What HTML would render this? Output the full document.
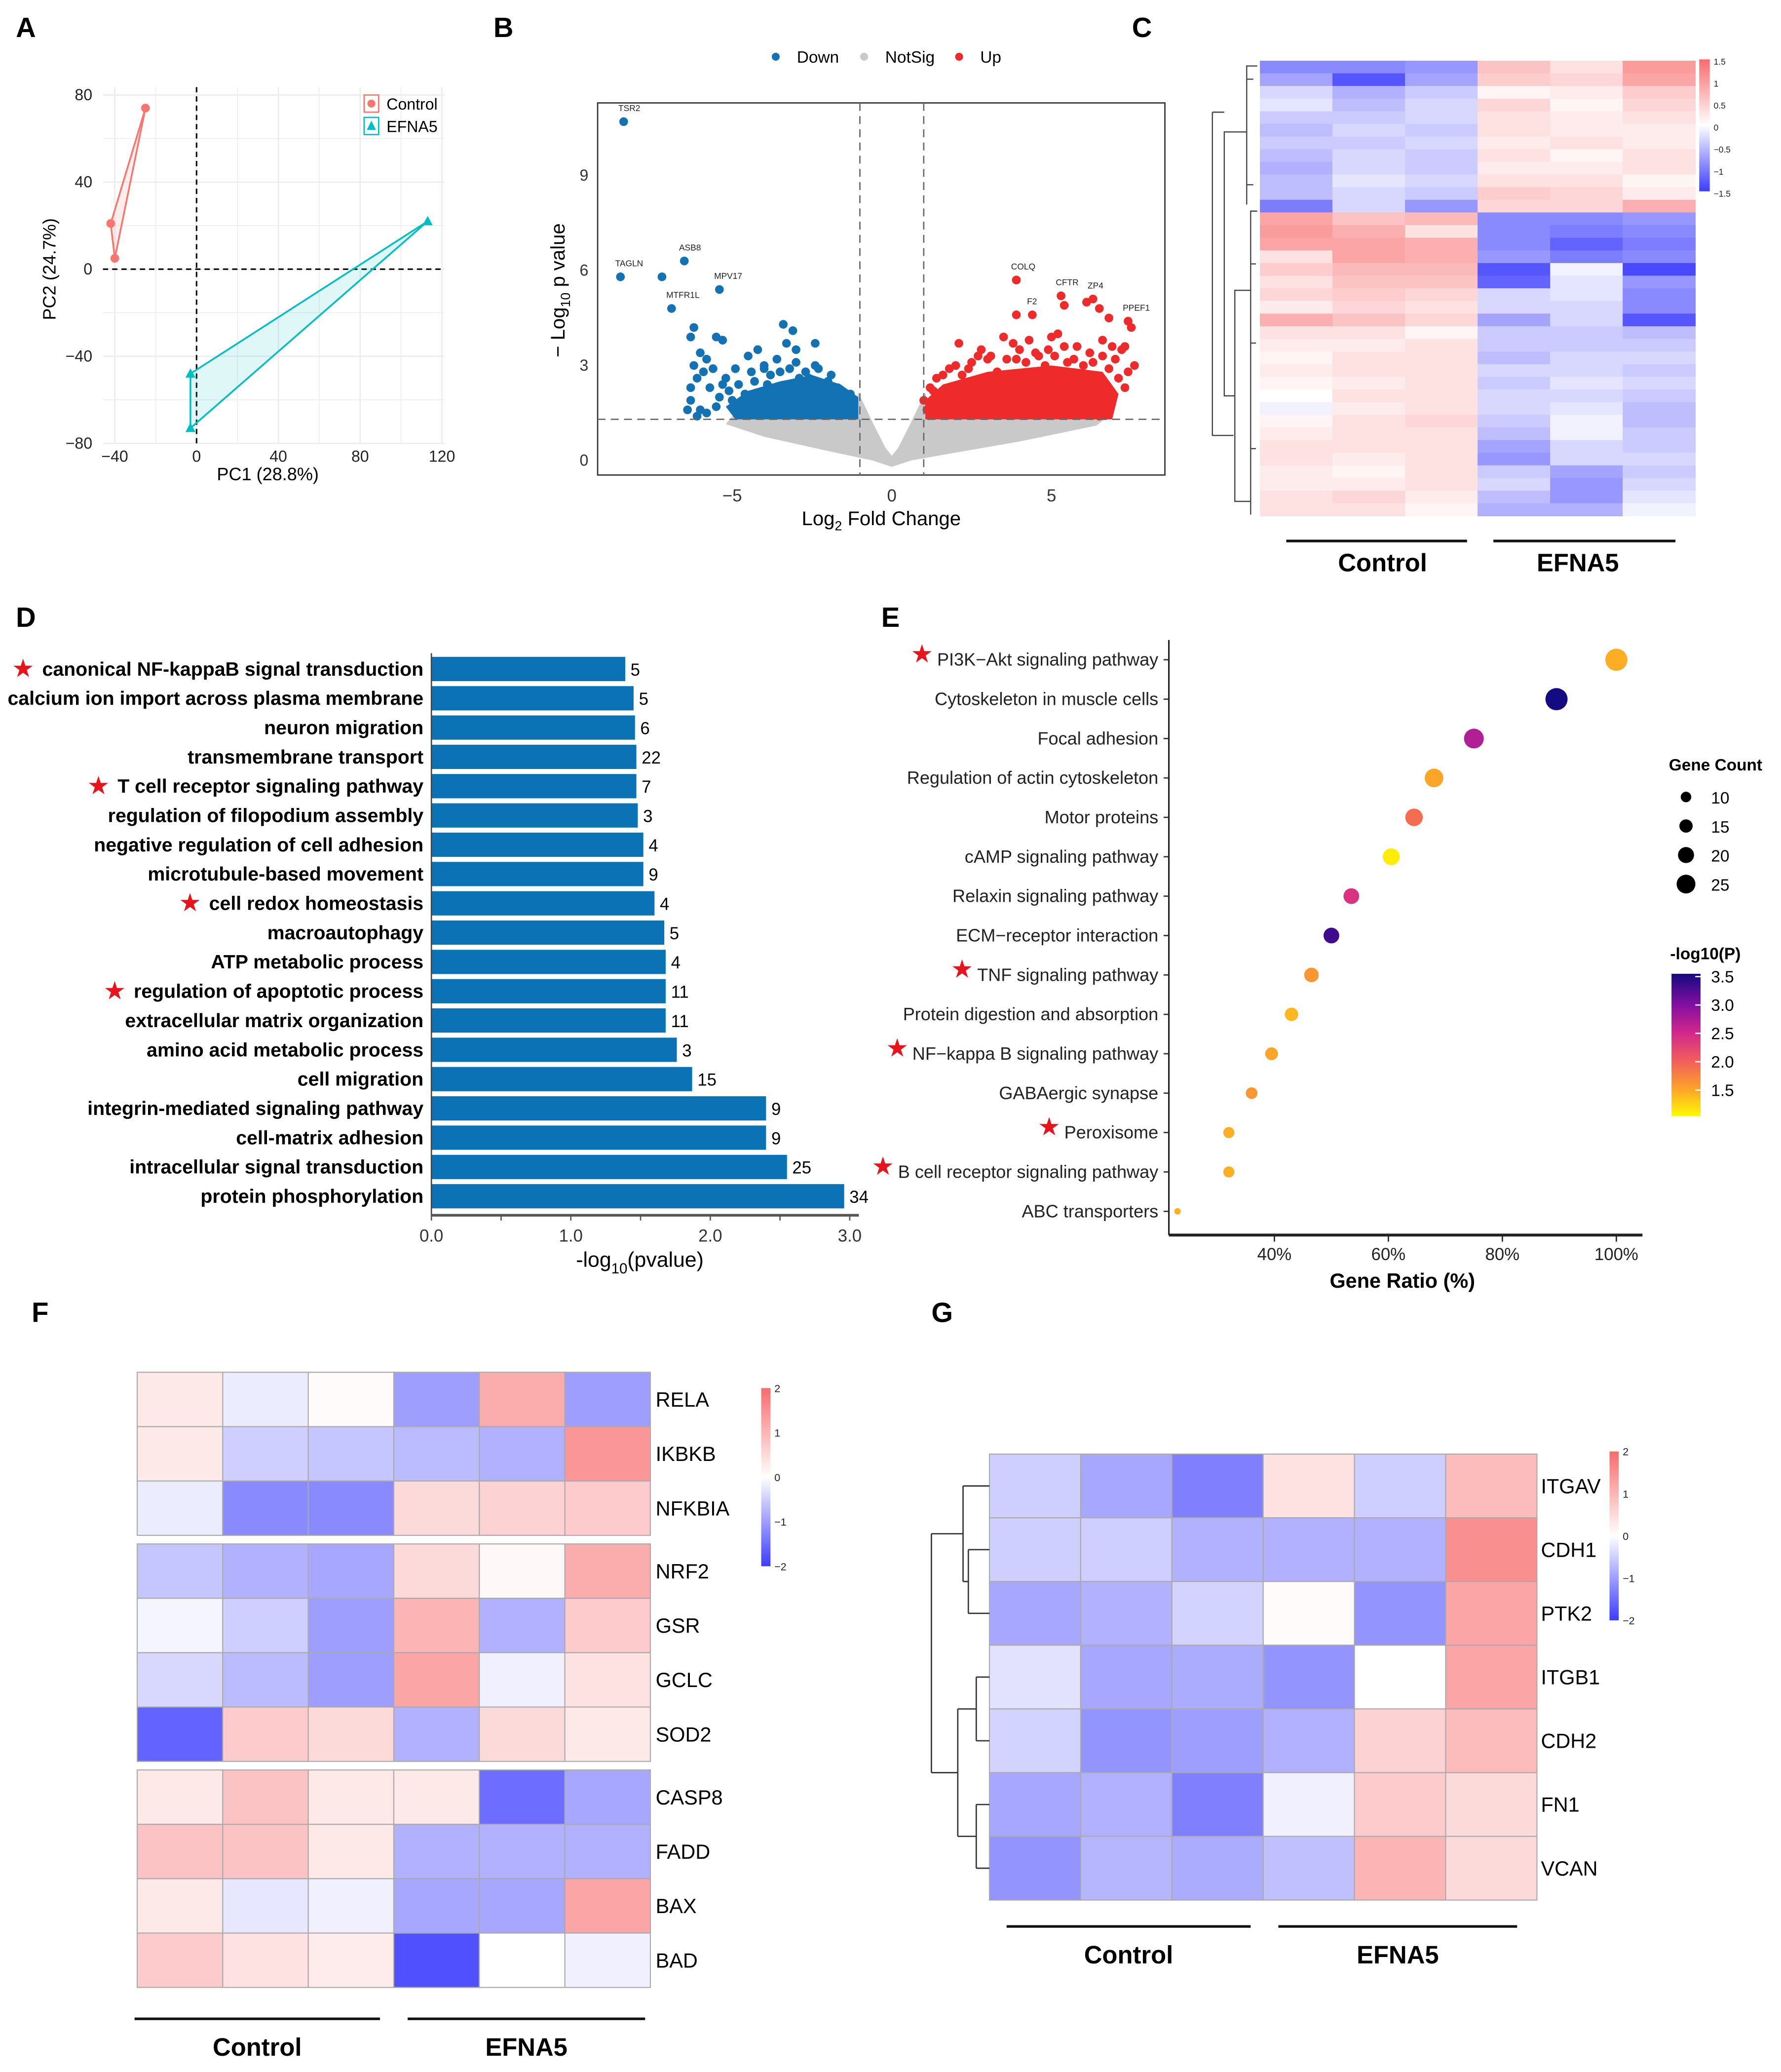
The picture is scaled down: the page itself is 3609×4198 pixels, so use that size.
<!DOCTYPE html>
<html><head><meta charset="utf-8"><style>
html,body{margin:0;padding:0;background:#fff}
svg{display:block}
text{font-family:"Liberation Sans",Arial,sans-serif}
</style></head><body>
<svg id="fig" xmlns="http://www.w3.org/2000/svg" width="3609" height="4198" viewBox="0 0 1350 1570.3" preserveAspectRatio="none">
<rect width="1350" height="1571" fill="#fff"/>
<g font-weight="bold" font-size="21">
<text x="12" y="28">A</text>
<text x="374" y="28">B</text>
<text x="858" y="28">C</text>
<text x="12" y="475">D</text>
<text x="668" y="475">E</text>
<text x="24" y="1002">F</text>
<text x="706" y="1002">G</text>
</g>
<g id="pA"></g>
<g id="pB"></g>
<g id="pC"></g>
<g id="pD"></g>
<g id="pE"></g>
<g id="pF"></g>
<g id="pG"></g>
</svg>
<script>
// ---------- DATA ----------
const pcaControlX=[-25,-42,-40];
const pcaControlY=[74,21,5];
const pcaEfnaX=[113,-3,-3];
const pcaEfnaY=[22,-48,-73];
const pcaTicks=[-40,0,40,80,120];
const pcaYTicks=[-80,-40,0,40,80];

const volLabeled=[["TSR2",-8.4,10.7,"down"],["TAGLN",-8.5,5.8,"down"],["ASB8",-6.5,6.3,"down"],["MTFR1L",-6.9,4.8,"down"],["MPV17",-5.4,5.4,"down"],["COLQ",3.9,5.7,"up"],["CFTR",5.3,5.2,"up"],["ZP4",6.3,5.1,"up"],["F2",4.4,4.6,"up"],["PPEF1",7.4,4.4,"up"]];
const volDownX=[-7.2,-6.2,-6.3,-5.5,-5.3,-3.4,-3.1,-3.3,-3.0,-2.4,-6.0,-5.8,-6.2,-5.9,-6.1,-5.6,-4.5,-4.2,-4.0,-3.6,-2.4,-2.7,-6.3,-6.3,-6.0,-6.1,-5.7,-5.4,-5.2,-4.8,-2.0,-1.7,-1.3,-1.2,-6.4,-5.8,-3.8,-3.2,-2.9,-4.4,-5.0,-4.6,-3.9,-2.2,-1.5,-5.5,-5.1,-4.9,-4.3,-3.5,-2.6,-1.9,-1.4,-5.3,-4.0,-3.0,-2.3];
const volDownY=[5.8,4.2,3.9,3.9,3.8,4.3,4.1,3.7,3.5,3.7,3.4,3.2,3.0,2.8,2.6,2.9,3.3,3.5,3.0,3.2,3.0,2.8,2.3,1.9,1.6,1.4,2.3,2.0,2.6,2.4,2.5,2.3,2.1,1.9,1.6,1.5,2.7,2.9,2.6,2.8,1.9,2.1,2.4,2.2,1.8,1.7,2.2,2.9,2.5,2.8,2.6,2.7,2.0,2.4,2.9,3.1,2.9];
const volUpX=[3.9,5.4,6.1,6.5,3.9,7.5,6.8,2.1,2.8,3.1,3.5,3.8,4.0,4.3,4.6,5.0,5.2,5.4,5.8,6.2,6.6,6.9,7.2,7.3,7.6,7.0,6.8,7.1,7.3,6.9,6.7,6.5,2.5,1.8,1.4,1.2,1.0,1.1,5.5,4.8,3.3,2.2,6.0,4.2,5.9,7.4,3.0,1.6,2.0,2.7,3.6,4.5,5.1,5.7,6.3,6.6,1.3,2.4,3.9,4.9];
const volUpY=[5.7,4.9,5.0,4.8,4.6,4.2,4.5,3.7,3.5,3.3,3.9,3.7,3.5,3.8,3.3,3.9,4.0,3.6,3.6,3.4,3.8,3.6,3.5,3.6,3.0,3.2,2.9,2.6,2.3,2.0,1.6,1.4,3.1,2.9,2.6,2.3,1.9,1.6,3.1,3.0,2.8,2.7,3.0,3.1,2.6,2.8,3.2,2.7,3.0,3.3,3.2,3.4,3.3,3.2,3.1,3.3,2.2,2.9,3.2,3.5];
const volGrayRegion=[[-5,1.4],[-1.2,1.4],[-1.05,2.15],[-0.6,1.2],[-0.2,0.4],[0,0.15],[0.2,0.4],[0.6,1.2],[1.05,2.15],[1.2,1.4],[6.8,1.4],[6.4,1.1],[4,0.6],[2,0.25],[0.6,0],[0,-0.2],[-0.6,0],[-2,0.3],[-4,0.75],[-5.2,1.15]];
const volDownRegion=[[-4.9,1.3],[-1.05,1.3],[-1.05,2.0],[-1.6,2.4],[-2.5,2.7],[-3.5,2.5],[-4.5,2.2],[-5.2,1.7]];
const volUpRegion=[[1.05,1.3],[6.9,1.3],[7.1,2.1],[6.6,2.8],[5,3.0],[3,2.8],[1.6,2.4],[1.05,1.9]];
const volXTicks=[-5,0,5];
const volYTicks=[0,3,6,9];

const heatCRows=[
[-0.9,-0.9,-0.8,0.6,0.3,1.0],[-0.7,-1.3,-0.7,0.5,0.4,0.9],[-0.3,-0.6,-0.4,0.1,0.2,0.5],[-0.2,-0.5,-0.3,0.4,0.1,0.4],
[-0.4,-0.4,-0.3,0.3,0.2,0.3],[-0.5,-0.3,-0.4,0.3,0.2,0.2],[-0.4,-0.4,-0.3,0.2,0.3,0.2],[-0.5,-0.3,-0.4,0.3,0.1,0.3],
[-0.6,-0.3,-0.4,0.2,0.2,0.3],[-0.5,-0.2,-0.3,0.3,0.3,0.1],[-0.5,-0.3,-0.4,0.5,0.4,0.2],[-1.0,-0.3,-0.8,0.4,0.4,0.8],
[0.9,0.6,0.7,-0.9,-0.9,-0.8],[1.0,0.8,0.3,-0.9,-1.0,-0.9],[0.9,0.9,0.8,-0.9,-1.2,-1.0],[0.3,0.9,0.8,-0.8,-1.0,-0.9],
[0.5,0.7,0.7,-1.3,-0.1,-1.4],[0.3,0.6,0.6,-1.2,-0.2,-0.8],[0.4,0.5,0.4,-0.3,-0.2,-0.9],[0.2,0.4,0.3,-0.3,-0.3,-0.9],
[0.8,0.6,0.4,-0.7,-0.3,-1.3],[0.3,0.3,0.1,-0.4,-0.4,-0.5],[0.2,0.2,0.3,-0.4,-0.4,-0.4],[0.1,0.3,0.3,-0.5,-0.3,-0.3],
[0.2,0.3,0.3,-0.3,-0.3,-0.4],[0.1,0.2,0.3,-0.4,-0.2,-0.3],[0.0,0.3,0.3,-0.3,-0.3,-0.4],[-0.1,0.2,0.3,-0.3,-0.2,-0.5],
[0.1,0.3,0.4,-0.4,-0.1,-0.5],[0.2,0.3,0.3,-0.5,-0.1,-0.4],[0.3,0.3,0.3,-0.7,-0.3,-0.4],[0.3,0.2,0.3,-0.8,-0.3,-0.3],
[0.2,0.1,0.3,-0.4,-0.7,-0.4],[0.2,0.2,0.3,-0.3,-0.8,-0.3],[0.3,0.4,0.2,-0.5,-0.8,-0.2],[0.3,0.3,0.1,-0.6,-0.6,-0.1]];
const heatCTicks=["1.5","1","0.5","0","-0.5","-1","-1.5"];

const goTerms=["canonical NF-kappaB signal transduction","calcium ion import across plasma membrane","neuron migration","transmembrane transport","T cell receptor signaling pathway","regulation of filopodium assembly","negative regulation of cell adhesion","microtubule-based movement","cell redox homeostasis","macroautophagy","ATP metabolic process","regulation of apoptotic process","extracellular matrix organization","amino acid metabolic process","cell migration","integrin-mediated signaling pathway","cell-matrix adhesion","intracellular signal transduction","protein phosphorylation"];
const goValues=[1.39,1.45,1.46,1.47,1.47,1.48,1.52,1.52,1.60,1.67,1.68,1.68,1.68,1.76,1.87,2.40,2.40,2.55,2.96];
const goCounts=[5,5,6,22,7,3,4,9,4,5,4,11,11,3,15,9,9,25,34];
const goStarred=[0,4,8,11];
const goTicks=[0,1,2,3];

const keggTerms=["PI3K\u2212Akt signaling pathway","Cytoskeleton in muscle cells","Focal adhesion","Regulation of actin cytoskeleton","Motor proteins","cAMP signaling pathway","Relaxin signaling pathway","ECM\u2212receptor interaction","TNF signaling pathway","Protein digestion and absorption","NF\u2212kappa B signaling pathway","GABAergic synapse","Peroxisome","B cell receptor signaling pathway","ABC transporters"];
const keggRatio=[100,89.5,75,68,64.5,60.5,53.5,50,46.5,43,39.5,36,32,32,23];
const keggCount=[29,29,25,23,21,20,18,18,16,14,13,11,10,10,2];
const keggLogP=[1.45,3.5,2.7,1.5,1.9,1.1,2.4,3.3,1.6,1.4,1.5,1.6,1.45,1.45,1.45];
const keggStarred=[0,8,10,12,13];
const keggTicks=[40,60,80,100];
const countLegend=[10,15,20,25];
const logPTicks=[3.5,3.0,2.5,2.0,1.5];

const heatFGenes=["RELA","IKBKB","NFKBIA","NRF2","GSR","GCLC","SOD2","CASP8","FADD","BAX","BAD"];
const heatFGroups=[3,4,4];
const heatFValues=[[0.3,-0.2,0.05,-1.0,1.1,-1.0],[0.3,-0.5,-0.6,-0.7,-0.8,1.4],[-0.2,-1.2,-1.2,0.5,0.6,0.7],
[-0.6,-0.8,-0.9,0.5,0.1,1.1],[-0.1,-0.5,-1.0,1.0,-0.8,0.7],[-0.4,-0.7,-1.0,1.2,-0.15,0.4],[-1.6,0.7,0.5,-0.8,0.5,0.3],
[0.3,0.8,0.3,0.3,-1.5,-0.9],[0.8,0.8,0.3,-0.8,-0.8,-0.8],[0.3,-0.25,-0.15,-0.9,-0.9,1.2],[0.7,0.4,0.25,-1.8,0.0,-0.15]];
const heatGGenes=["ITGAV","CDH1","PTK2","ITGB1","CDH2","FN1","VCAN"];
const heatGValues=[[-0.5,-0.9,-1.3,0.4,-0.5,0.9],[-0.5,-0.5,-0.8,-0.8,-0.8,1.5],[-0.9,-0.8,-0.45,0.05,-1.1,1.2],
[-0.3,-0.9,-0.85,-1.1,0.0,1.2],[-0.45,-1.1,-1.0,-0.8,0.6,0.9],[-0.9,-0.8,-1.3,-0.15,0.7,0.5],[-1.1,-0.75,-0.85,-0.65,1.0,0.5]];
const heat2Ticks=["2","1","0","-1","-2"];

// ---------- HELPERS ----------
const NS="http://www.w3.org/2000/svg";
function mk(tag,attrs,parent,txt){const e=document.createElementNS(NS,tag);for(const k in attrs)e.setAttribute(k,attrs[k]);if(txt!==undefined)e.textContent=txt;parent.appendChild(e);return e;}
function heatColor(v,max){const t=Math.max(-1,Math.min(1,v/max));let c;if(t>=0)c=[255-(255-248)*t,255-(255-105)*t,255-(255-107)*t];else{const s=-t;c=[255-(255-60)*s,255-(255-60)*s,255];}return `rgb(${c.map(Math.round).join(',')})`;}
function lerpC(a,b,t){return a.map((x,i)=>Math.round(x+(b[i]-x)*t));}
const plasma=[[1.0,[255,255,0]],[1.5,[253,165,40]],[2.0,[243,95,90]],[2.5,[210,40,140]],[3.0,[130,15,160]],[3.5,[20,10,130]]];
function pColor(v){v=Math.max(1,Math.min(3.5,v));for(let i=0;i<plasma.length-1;i++){if(v<=plasma[i+1][0]){const t=(v-plasma[i][0])/(plasma[i+1][0]-plasma[i][0]);return `rgb(${lerpC(plasma[i][1],plasma[i+1][1],t).join(',')})`;}}return 'rgb(20,10,130)';}

// ---------- PANEL A ----------
(function(){
const g=document.getElementById('pA');
const ax=v=>149+v*62/40, ay=v=>204-v*66/40;
for(let v=-40;v<=120;v+=20){const l=mk('line',{x1:ax(v),x2:ax(v),y1:66,y2:336,stroke:'#ececec','stroke-width':v%40===0?1:0.6},g);}
for(let v=-80;v<=80;v+=20){const l=mk('line',{x1:78,x2:337,y1:ay(v),y2:ay(v),stroke:'#ececec','stroke-width':v%40===0?1:0.6},g);}
let l=mk('line',{x1:ax(0),x2:ax(0),y1:66,y2:336,stroke:'#111','stroke-dasharray':'4,3','stroke-width':1.2},g);
l=mk('line',{x1:78,x2:337,y1:ay(0),y2:ay(0),stroke:'#111','stroke-dasharray':'4,3','stroke-width':1.2},g);
const hull=(xs,ys,col,name)=>{const p=mk('polygon',{points:xs.map((x,i)=>ax(x)+','+ay(ys[i])).join(' '),fill:col,'fill-opacity':0.12,stroke:col,'stroke-width':1.3},g);};
hull(pcaControlX,pcaControlY,'#F8766D','control-hull');hull(pcaEfnaX,pcaEfnaY,'#00BFC4','efna5-hull');
pcaControlX.forEach((x,i)=>{const c=mk('circle',{cx:ax(x),cy:ay(pcaControlY[i]),r:3.3,fill:'#F8766D'},g);});
pcaEfnaX.forEach((x,i)=>{const X=ax(x),Y=ay(pcaEfnaY[i]);const c=mk('polygon',{points:`${X},${Y-4} ${X-3.8},${Y+3} ${X+3.8},${Y+3}`,fill:'#00BFC4'},g);});
pcaTicks.forEach(v=>{const t=mk('text',{x:ax(v),y:350,'font-size':12,'text-anchor':'middle',fill:'#222'},g,String(v).replace('-','\u2212'));});
pcaYTicks.forEach(v=>{const t=mk('text',{x:70,y:ay(v)+4,'font-size':12,'text-anchor':'end',fill:'#222'},g,String(v).replace('-','\u2212'));});
let t=mk('text',{x:203,y:364,'font-size':13.5,'text-anchor':'middle'},g,'PC1 (28.8%)');
t=mk('text',{x:0,y:0,'font-size':13.5,'text-anchor':'middle',transform:'translate(42,204) rotate(-90)'},g,'PC2 (24.7%)');
const lg=mk('g',{},g);
let r=mk('rect',{x:276,y:72,width:11,height:13,fill:'#fff',stroke:'#F8766D'},lg);
mk('circle',{cx:281.5,cy:78.5,r:3,fill:'#F8766D'},lg);
r=mk('rect',{x:276,y:89,width:11,height:13,fill:'#fff',stroke:'#00BFC4'},lg);
mk('polygon',{points:'281.5,91.5 278,98.5 285,98.5',fill:'#00BFC4'},lg);
t=mk('text',{x:293,y:83,'font-size':12},lg,'Control');
t=mk('text',{x:293,y:100,'font-size':12},lg,'EFNA5');
})();

// ---------- PANEL B ----------
(function(){
const g=document.getElementById('pB');
const vx=v=>676+v*24.2, vy=v=>349-v*24;
let r=mk('rect',{x:453,y:78,width:430,height:282,fill:'#fff',stroke:'#333','stroke-width':1},g);
const poly=(pts,col,name)=>{const p=mk('polygon',{points:pts.map(q=>vx(q[0])+','+vy(q[1])).join(' '),fill:col},g);};
poly(volGrayRegion,'#c9c9c9','notsig-density');
poly(volDownRegion,'#1272b3','down-density');
poly(volUpRegion,'#ee2a2a','up-density');
volDownX.forEach((x,i)=>{const c=mk('circle',{cx:vx(x),cy:vy(volDownY[i]),r:3.3,fill:'#1272b3'},g);});
volUpX.forEach((x,i)=>{const c=mk('circle',{cx:vx(x),cy:vy(volUpY[i]),r:3.3,fill:'#ee2a2a'},g);});
volLabeled.forEach(d=>{const c=mk('circle',{cx:vx(d[1]),cy:vy(d[2]),r:3.3,fill:d[3]==='down'?'#1272b3':'#ee2a2a'},g);
const t=mk('text',{x:vx(d[1])-4,y:vy(d[2])-8,'font-size':6.5,fill:'#222'},g,d[0]);});
[-1,1].forEach(v=>{const l=mk('line',{x1:vx(v),x2:vx(v),y1:78,y2:360,stroke:'#666','stroke-dasharray':'6,4','stroke-width':1},g);});
let l=mk('line',{x1:453,x2:883,y1:vy(1.3),y2:vy(1.3),stroke:'#666','stroke-dasharray':'6,4','stroke-width':1},g);
volXTicks.forEach(v=>{const t=mk('text',{x:vx(v),y:380,'font-size':13,'text-anchor':'middle',fill:'#333'},g,String(v).replace('-','\u2212'));});
volYTicks.forEach(v=>{const t=mk('text',{x:446,y:vy(v)+4,'font-size':12,'text-anchor':'end',fill:'#333'},g,String(v));});
let t=mk('text',{x:668,y:398,'font-size':15,'text-anchor':'middle'},g);
t.innerHTML='Log<tspan font-size="10" dy="4">2</tspan><tspan dy="-4"> Fold Change</tspan>';
t=mk('text',{x:0,y:0,'font-size':15,'text-anchor':'middle',transform:'translate(428,220) rotate(-90)'},g);
t.innerHTML='\u2212 Log<tspan font-size="10" dy="4">10</tspan><tspan dy="-4"> p value</tspan>';
const lg=[['Down','#1272b3',588],['NotSig','#c9c9c9',655],['Up','#ee2a2a',727]];
lg.forEach(d=>{const c=mk('circle',{cx:d[2],cy:43,r:3,fill:d[1]},g);
const tt=mk('text',{x:d[2]+16,y:47.5,'font-size':12.5},g,d[0]);});
})();

// ---------- PANEL C ----------
(function(){
const g=document.getElementById('pC');
const x0=955,w=(1285-955)/6,y0=46,h=(391-46)/heatCRows.length;
heatCRows.forEach((row,i)=>row.forEach((v,j)=>{const r=mk('rect',{x:x0+j*w,y:y0+i*h,width:w+0.3,height:h+0.3,fill:heatColor(v,1.5)},g);}));
const dg=mk('path',{d:'M953,50 H945 V155 M953,160 H948 V390 M945,100 H928 V300 H936 M936,300 V220 H948 M936,300 V380 H948 M945,60 H950 M945,140 H950 M948,200 H952 M948,260 H952 M948,340 H952',fill:'none',stroke:'#444','stroke-width':0.9},g);
const dg2=mk('path',{d:'M919,85 H928 M919,85 V330 H935',fill:'none',stroke:'#444','stroke-width':0.9},g);
const defs=mk('defs',{},g);
const lgC=mk('linearGradient',{id:'gC',x1:0,y1:0,x2:0,y2:1},defs);
mk('stop',{offset:'0','stop-color':'#f86b6d'},lgC);mk('stop',{offset:'0.5','stop-color':'#ffffff'},lgC);mk('stop',{offset:'1','stop-color':'#3c3cff'},lgC);
let r=mk('rect',{x:1288,y:45,width:8,height:100,fill:'url(#gC)'},g);
heatCTicks.forEach((s,i)=>{const t=mk('text',{x:1299,y:47+i*100/6+2,'font-size':6.5,fill:'#222'},g,s.replace('-','\u2212'));});
let l=mk('line',{x1:975,x2:1112,y1:410,y2:410,stroke:'#111','stroke-width':2},g);
l=mk('line',{x1:1132,x2:1270,y1:410,y2:410,stroke:'#111','stroke-width':2},g);
let t=mk('text',{x:1048,y:433,'font-size':19,'font-weight':'bold','text-anchor':'middle'},g,'Control');
t=mk('text',{x:1196,y:433,'font-size':19,'font-weight':'bold','text-anchor':'middle'},g,'EFNA5');
})();

// ---------- PANEL D ----------
(function(){
const g=document.getElementById('pD');
const bx=v=>327+v*105.7, by=i=>507+i*22.2;
goValues.forEach((v,i)=>{
const r=mk('rect',{x:bx(0),y:by(i)-9.2,width:bx(v)-bx(0),height:18.4,fill:'#0b72b5'},g);
const c=mk('text',{x:bx(v)+4,y:by(i)+5,'font-size':13},g,String(goCounts[i]));
const t=mk('text',{x:321,y:by(i)+5,'font-size':14.7,'font-weight':'bold','text-anchor':'end'},g,goTerms[i]);
if(goStarred.includes(i)){const L=t.getComputedTextLength();const s=mk('text',{x:321-L-6,y:by(i)+6,'font-size':19,fill:'#e8141b','text-anchor':'end'},g,'\u2605');}
});
let l=mk('line',{x1:327,x2:327,y1:495,y2:921,stroke:'#444','stroke-width':1},g);
l=mk('line',{x1:327,x2:651,y1:921,y2:921,stroke:'#555','stroke-width':2},g);
for(let v=0;v<=3;v+=0.5){const k=mk('line',{x1:bx(v),x2:bx(v),y1:921,y2:925,stroke:'#555'},g);}
goTicks.forEach(v=>{const t=mk('text',{x:bx(v),y:941,'font-size':13,'text-anchor':'middle',fill:'#333'},g,v.toFixed(1));});
let t=mk('text',{x:485,y:960,'font-size':16,'text-anchor':'middle'},g);
t.innerHTML='-log<tspan font-size="11" dy="5">10</tspan><tspan dy="-5">(pvalue)</tspan>';
})();

// ---------- PANEL E ----------
(function(){
const g=document.getElementById('pE');
const ex=p=>966+(p-40)*4.32, ey=i=>500+i*29.86, er=c=>2+0.22*c;
keggTerms.forEach((s,i)=>{
const t=mk('text',{x:878,y:ey(i)+4.5,'font-size':13.5,'text-anchor':'end',fill:'#222'},g,s);
const k=mk('line',{x1:882,x2:886,y1:ey(i),y2:ey(i),stroke:'#333'},g);
if(keggStarred.includes(i)){const L=t.getComputedTextLength();const st=mk('text',{x:878-L-3,y:ey(i)+2,'font-size':19,fill:'#e8141b','text-anchor':'end'},g,'\u2605');}
const c=mk('circle',{cx:ex(keggRatio[i]),cy:ey(i),r:er(keggCount[i]),fill:pColor(keggLogP[i])},g);
});
let l=mk('line',{x1:886,x2:886,y1:485,y2:936,stroke:'#222','stroke-width':1.2},g);
l=mk('line',{x1:886,x2:1245,y1:936,y2:936,stroke:'#222','stroke-width':2.2},g);
keggTicks.forEach(v=>{const k=mk('line',{x1:ex(v),x2:ex(v),y1:936,y2:941,stroke:'#222'},g);
const t=mk('text',{x:ex(v),y:955,'font-size':13,'text-anchor':'middle',fill:'#222'},g,v+'%');});
let t=mk('text',{x:1063,y:976,'font-size':15.5,'font-weight':'bold','text-anchor':'middle'},g,'Gene Ratio (%)');
t=mk('text',{x:1265,y:584,'font-size':12.5,'font-weight':'bold'},g,'Gene Count');
countLegend.forEach((c,i)=>{const d=mk('circle',{cx:1278,cy:604+i*22,r:er(c)*0.95,fill:'#000'},g);
const tt=mk('text',{x:1297,y:609+i*22,'font-size':12.5},g,String(c));});
t=mk('text',{x:1266,y:727,'font-size':12.5,'font-weight':'bold'},g,'-log10(P)');
const defs=mk('defs',{},g);const lgE=mk('linearGradient',{id:'gE',x1:0,y1:0,x2:0,y2:1},defs);
[3.55,3.0,2.5,2.0,1.5,1.03].forEach((v,i,a)=>mk('stop',{offset:(3.55-v)/(3.55-1.03),'stop-color':pColor(v)},lgE));
let r=mk('rect',{x:1267,y:738,width:22,height:108,fill:'url(#gE)'},g);
logPTicks.forEach(v=>{const yy=738+(3.55-v)*43;const k=mk('line',{x1:1285,x2:1289,y1:yy,y2:yy,stroke:'#fff'},g);
const tt=mk('text',{x:1297,y:yy+4.5,'font-size':12.5},g,v.toFixed(1));});
})();

// ---------- PANEL F / G heatmaps ----------
function twoColorbar(g,id,x,y,hgt){const defs=mk('defs',{},g);const lg=mk('linearGradient',{id:id,x1:0,y1:0,x2:0,y2:1},defs);
mk('stop',{offset:'0','stop-color':'#f86b6d'},lg);mk('stop',{offset:'0.5','stop-color':'#ffffff'},lg);mk('stop',{offset:'1','stop-color':'#3c3cff'},lg);
const r=mk('rect',{x:x,y:y,width:7,height:hgt,fill:'url(#'+id+')'},g);
heat2Ticks.forEach((s,i)=>{const t=mk('text',{x:x+10,y:y+i*hgt/4+3,'font-size':8,fill:'#222'},g,s.replace('-','\u2212'));});}
function groupLabels(g,y,c1,c2,ty){[[c1,'Control'],[c2,'EFNA5']].forEach(d=>{const l=mk('line',{x1:d[0][0],x2:d[0][1],y1:y,y2:y,stroke:'#111','stroke-width':2},g);
const t=mk('text',{x:(d[0][0]+d[0][1])/2,y:ty,'font-size':19,'font-weight':'bold','text-anchor':'middle'},g,d[1]);});}

(function(){
const g=document.getElementById('pF');
const x0=104,w=(493-104)/6,h=41.2,gap=6.5;let y=1040,idx=0;
heatFGroups.forEach((n,gi)=>{for(let k=0;k<n;k++){const row=heatFValues[idx];
row.forEach((v,j)=>{const r=mk('rect',{x:x0+j*w,y:y,width:w,height:h,fill:heatColor(v,2),stroke:'#aaa','stroke-width':0.8},g);});
const t=mk('text',{x:497,y:y+h/2+5.5,'font-size':15.5},g,heatFGenes[idx]);
y+=h;idx++;}y+=gap;});
twoColorbar(g,'gF',577,1052,135);
groupLabels(g,1530,[102,288],[309,489],1558);
})();

(function(){
const g=document.getElementById('pG');
const x0=750,w=(1165-750)/6,y0=1102,h=(1440-1102)/7;
heatGValues.forEach((row,i)=>{row.forEach((v,j)=>{const r=mk('rect',{x:x0+j*w,y:y0+i*h,width:w,height:h,fill:heatColor(v,2),stroke:'#aaa','stroke-width':0.8},g);});
const t=mk('text',{x:1168,y:y0+i*h+h/2+5.5,'font-size':15.5},g,heatGGenes[i]);});
const c=i=>y0+i*h+h/2;
const d=`M750,${c(0)} H730 M750,${c(1)} H734 M750,${c(2)} H734 M734,${c(1)} V${c(2)} M734,${(c(1)+c(2))/2} H730 M730,${c(0)} V${(c(1)+c(2))/2}
M750,${c(3)} H740 M750,${c(4)} H740 M740,${c(3)} V${c(4)} M750,${c(5)} H740 M750,${c(6)} H740 M740,${c(5)} V${c(6)}
M740,${(c(3)+c(4))/2} H726 M740,${(c(5)+c(6))/2} H726 M726,${(c(3)+c(4))/2} V${(c(5)+c(6))/2}
M730,${(c(0)+(c(1)+c(2))/2)/2} H706 M726,${((c(3)+c(4))/2+(c(5)+c(6))/2)/2} H706 M706,${(c(0)+(c(1)+c(2))/2)/2} V${((c(3)+c(4))/2+(c(5)+c(6))/2)/2}`;
const p=mk('path',{d:d,fill:'none',stroke:'#333','stroke-width':1},g);
twoColorbar(g,'gG',1220,1100,128);
groupLabels(g,1460,[763,948],[969,1150],1488);
})();
</script>
</body></html>
